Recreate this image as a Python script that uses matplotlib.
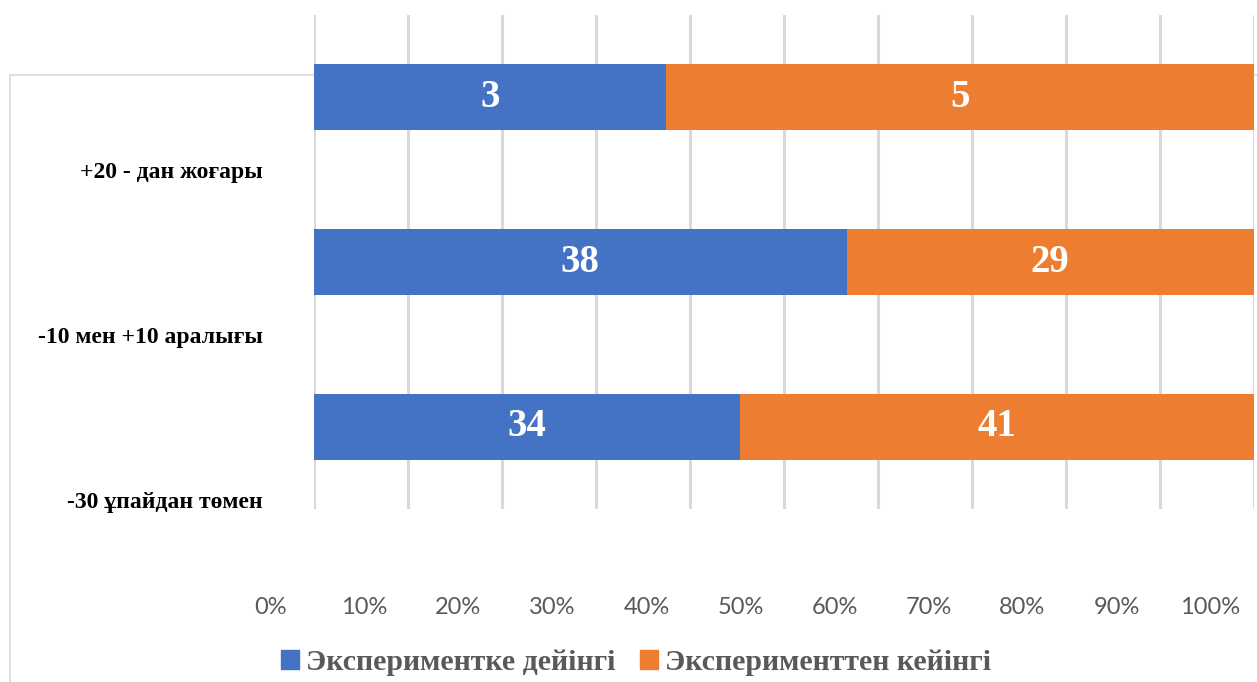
import matplotlib
matplotlib.use("Agg")
import matplotlib.pyplot as plt
import matplotlib.transforms as mtransforms
from matplotlib.patches import Patch
from matplotlib.lines import Line2D

categories = ["+20 - дан жоғары", "-10 мен +10 аралығы", "-30 ұпайдан төмен"]
before = [3, 38, 34]
after = [5, 29, 41]
series_names = ["Экспериментке дейінгі", "Эксперименттен кейінгі"]
tick_values = [0.0, 0.1, 0.2, 0.3, 0.4, 0.5, 0.6, 0.7, 0.8, 0.9, 1.0]
tick_labels = ["0%", "10%", "20%", "30%", "40%", "50%", "60%", "70%", "80%", "90%", "100%"]

BLUE = "#4472C4"
ORANGE = "#ED7D31"
GRID = "#D9D9D9"
GRAY = "#595959"
SERIF = ["Liberation Serif", "DejaVu Serif"]
SANS = ["Lato", "DejaVu Sans"]

W, H = 1257, 682
fig = plt.figure(figsize=(W / 100, H / 100), dpi=100)

# chart frame (partially visible)
fig.add_artist(Line2D([10 / W, 1.0], [1 - 75 / H, 1 - 75 / H], transform=fig.transFigure,
                      color=GRID, lw=1.2, zorder=-5))
fig.add_artist(Line2D([10 / W, 10 / W], [1 - 75 / H, 0], transform=fig.transFigure,
                      color=GRID, lw=1.2, zorder=-5))

left, right, top, bottom = 313.5, 1253.5, 15, 509
ax = fig.add_axes([left / W, 1 - bottom / H, (right - left) / W, (bottom - top) / H])
ax.set_facecolor("white")

totals = [b + a for b, a in zip(before, after)]
fb = [b / t for b, t in zip(before, totals)]
fa = [a / t for a, t in zip(after, totals)]
ypos = list(range(len(categories)))

ax.barh(ypos, fb, height=0.4, color=BLUE, zorder=3)
ax.barh(ypos, fa, left=fb, height=0.4, color=ORANGE, zorder=3)

for y, b, a, v1, v2 in zip(ypos, fb, fa, before, after):
    ax.text(b / 2, y, str(v1), ha="center", va="center", color="white",
            fontsize=28, fontweight="bold", family=SERIF, zorder=4)
    ax.text(b + a / 2, y, str(v2), ha="center", va="center", color="white",
            fontsize=28, fontweight="bold", family=SERIF, zorder=4)

ax.set_xlim(0, 1)
ax.set_ylim(2.5, -0.5)

ax.set_xticks(tick_values)
ax.set_xticklabels(tick_labels, family=SANS, fontsize=17, color=GRAY)
ax.tick_params(axis="x", length=0, pad=63)
off = mtransforms.ScaledTranslation(-0.43, 0, fig.dpi_scale_trans)
for lbl in ax.get_xticklabels():
    lbl.set_transform(lbl.get_transform() + off)

ax.set_yticks([y + 0.443 for y in ypos])
ax.set_yticklabels(categories, family=SERIF, fontsize=17, fontweight="bold", color="black")
ax.tick_params(axis="y", length=0, pad=36.7)

ax.grid(axis="x", color=GRID, lw=2.2, zorder=0)
ax.set_axisbelow(True)
for s in ax.spines.values():
    s.set_visible(False)

handles = [Patch(facecolor=BLUE, edgecolor=BLUE), Patch(facecolor=ORANGE, edgecolor=ORANGE)]
leg = fig.legend(handles, series_names, loc="center", bbox_to_anchor=(636 / W, 1 - 663 / H),
                 ncol=2, frameon=False, handlelength=0.6, handleheight=0.6,
                 handletextpad=0.25, columnspacing=0.8,
                 prop={"family": SERIF, "weight": "bold", "size": 21.5})
for t in leg.get_texts():
    t.set_color(GRAY)

fig.savefig("out.png", dpi=100, facecolor="white")
